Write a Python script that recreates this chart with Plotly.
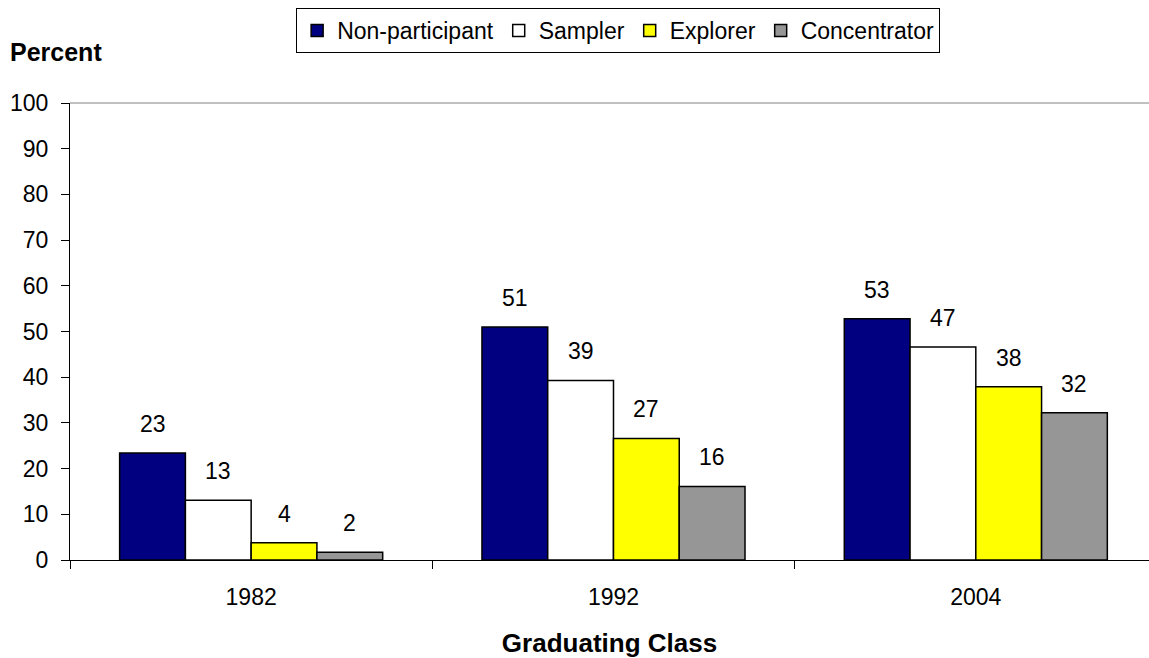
import plotly.graph_objects as go

categories = ["1982", "1992", "2004"]
series_names = ["Non-participant", "Sampler", "Explorer", "Concentrator"]
non_participant = [23.4, 51.0, 52.8]
sampler = [13.1, 39.3, 46.6]
explorer = [3.8, 26.6, 37.9]
concentrator = [1.7, 16.1, 32.2]
colors = ["#000080", "#FFFFFF", "#FFFF00", "#969696"]
y_ticks = [0, 10, 20, 30, 40, 50, 60, 70, 80, 90, 100]

FONT = "Liberation Sans, Arial, sans-serif"
FS = 23
FS_TITLE = 26
series_values = [non_participant, sampler, explorer, concentrator]
BARGAP = 0.274

fig = go.Figure()
for name, vals, col in zip(series_names, series_values, colors):
    fig.add_trace(go.Bar(
        name=name, x=categories, y=vals,
        marker=dict(color=col, line=dict(color="black", width=1.5)),
    ))

# data labels above each bar
n = len(series_values)
bar_w = (1 - BARGAP) / n
for si, vals in enumerate(series_values):
    off = (si - (n - 1) / 2) * bar_w
    for ci, v in enumerate(vals):
        fig.add_annotation(
            x=ci + off, y=v, xref="x", yref="y",
            text=str(int(round(v))), showarrow=False,
            xanchor="center", yanchor="middle", yshift=29,
            font=dict(family=FONT, size=FS, color="black"),
        )

fig.update_layout(
    width=1149, height=658,
    margin=dict(l=70, r=0, t=103, b=98),
    paper_bgcolor="white", plot_bgcolor="white",
    barmode="group", bargap=BARGAP, bargroupgap=0,
    font=dict(family=FONT, size=FS, color="black"),
    legend=dict(
        orientation="h", x=0.508, xanchor="center", y=1.208, yanchor="top",
        bordercolor="black", borderwidth=1, bgcolor="white",
        font=dict(family=FONT, size=FS, color="black"),
        itemwidth=30, tracegroupgap=0,
    ),
    showlegend=True,
)
fig.add_shape(type="line", xref="paper", yref="paper", x0=0, x1=1, y0=1, y1=1,
              line=dict(color="#808080", width=1))
fig.update_xaxes(
    type="category", range=[-0.5, 2.478], automargin=False,
    showline=True, linecolor="black", linewidth=1,
    ticks="outside", tickson="boundaries", ticklen=8, tickcolor="black",
    ticklabelstandoff=16,
    tickfont=dict(family=FONT, size=FS, color="black"),
    showgrid=False,
    title=dict(text="<b>Graduating Class</b>", standoff=26,
               font=dict(family=FONT, size=FS_TITLE, color="black")),
)
fig.update_yaxes(
    range=[0, 100], tickvals=y_ticks, automargin=False,
    showline=True, linecolor="black", linewidth=1,
    ticks="outside", ticklen=8, tickcolor="black",
    ticklabelstandoff=8,
    tickfont=dict(family=FONT, size=FS, color="black"),
    showgrid=False, zeroline=False,
)
fig.add_annotation(
    text="<b>Percent</b>", xref="paper", yref="paper",
    x=-0.057, y=1.111, xanchor="left", yanchor="middle", showarrow=False,
    font=dict(family=FONT, size=FS_TITLE - 1, color="black"),
)
fig.write_html("out.html", config={"displayModeBar": False},
               post_script="document.body.style.margin='0';document.body.style.overflow='hidden';")
